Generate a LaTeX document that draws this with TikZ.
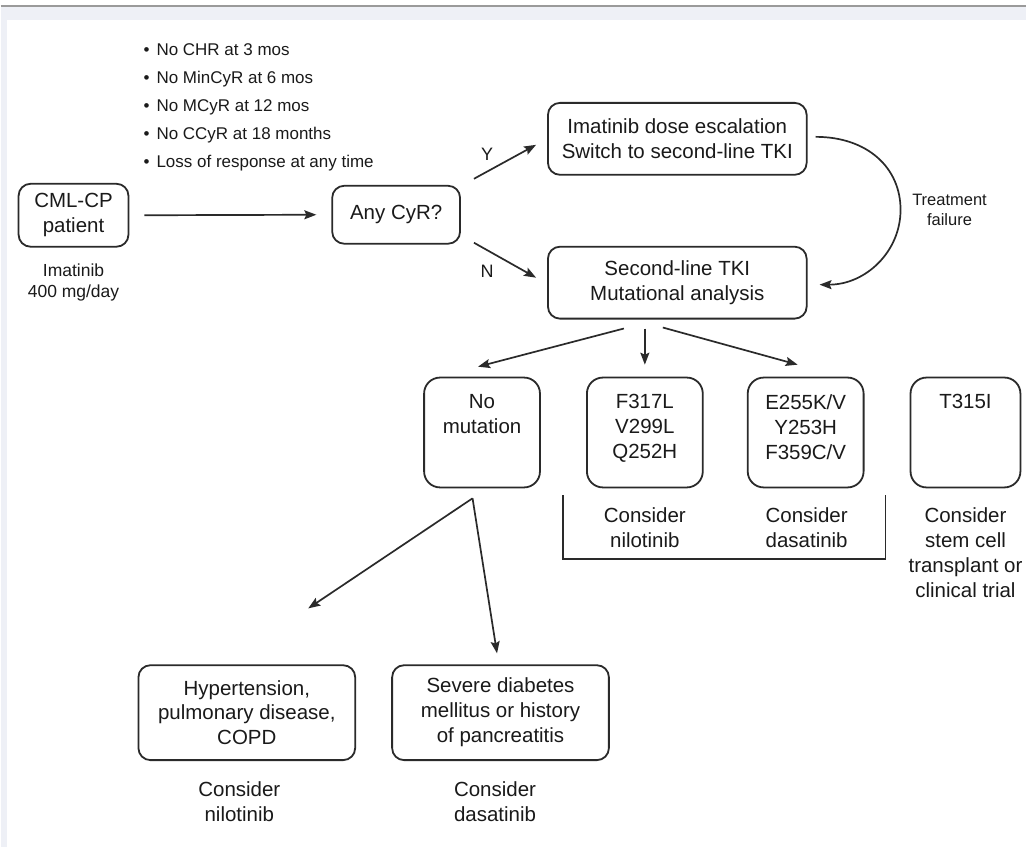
\documentclass[tikz,border=0pt]{standalone}
\usepackage{fontspec}
\setmainfont{Liberation Sans}
\usetikzlibrary{arrows.meta,calc}
\definecolor{ln}{HTML}{2A2A2A}
\definecolor{tx}{HTML}{1A1A1A}
\definecolor{band}{HTML}{EEF0F6}
\definecolor{bandline}{HTML}{9A9A9A}
\newcommand{\mainf}{\fontsize{20.5}{25}\selectfont}
\newcommand{\smallf}{\fontsize{17.5}{20.5}\selectfont}
\newcommand{\bulf}{\fontsize{17}{20}\selectfont}
\newcommand{\trf}{\fontsize{16.5}{20}\selectfont}
\newcommand{\ynf}{\fontsize{18}{20}\selectfont}
\newcommand{\sqtext}[1]{\parbox[t][76pt][t]{110pt}{\centering #1}}
\begin{document}
\begin{tikzpicture}[x=1pt,y=-1pt,
 box/.style={draw=ln,line width=1.8pt,rounded corners=12pt,align=center,text=tx,font=\mainf,inner sep=0pt},
 sq/.style={draw=ln,line width=1.8pt,rounded corners=16pt,minimum width=116pt,minimum height=110pt,inner sep=0pt,text=tx,font=\mainf},
 lbl/.style={align=center,text=tx,inner sep=0pt},
 arr/.style={draw=ln,line width=1.7pt,-{Stealth[length=12pt,width=9pt,inset=2pt]}},
 con/.style={draw=ln,line width=1.7pt}]
% background and frame
\fill[white] (0,0) rectangle (1027,848);
\fill[band] (0,6) rectangle (1027,20);
\fill[band] (0,20) rectangle (6,848);
\draw[bandline,line width=1.2pt] (0,6) -- (1027,6);
\useasboundingbox (0,0) rectangle (1027,848);

% bullet list
\node[lbl,font=\bulf,anchor=base west] (b1) at (143,56) {\textbullet\hspace{7pt}No CHR at 3 mos};
\node[lbl,font=\bulf,anchor=base west] (b2) at (143,84) {\textbullet\hspace{7pt}No MinCyR at 6 mos};
\node[lbl,font=\bulf,anchor=base west] (b3) at (143,112) {\textbullet\hspace{7pt}No MCyR at 12 mos};
\node[lbl,font=\bulf,anchor=base west] (b4) at (143,140) {\textbullet\hspace{7pt}No CCyR at 18 months};
\node[lbl,font=\bulf,anchor=base west] (b5) at (143,168) {\textbullet\hspace{7pt}Loss of response at any time};

% main boxes
\node[box,minimum width=110pt,minimum height=63pt] (cml) at (73,215.5) {CML-CP\\patient};
\node[lbl,font=\smallf] (imat) at (73,283) {Imatinib\\400 mg/day};
\node[box,minimum width=128pt,minimum height=58pt] (cyr) at (396,215) {Any CyR?};
\node[box,minimum width=259pt,minimum height=72pt] (esc) at (677.5,139) {Imatinib dose escalation\\Switch to second-line TKI};
\node[box,minimum width=259pt,minimum height=72pt] (tki) at (677.5,283) {Second-line TKI\\Mutational analysis};
\node[lbl,font=\trf] (tf) at (950,210) {Treatment\\failure};
\node[lbl,font=\ynf] (ylab) at (487,154) {Y};
\node[lbl,font=\ynf] (nlab) at (487,272) {N};

% mutation boxes
\node[sq] (nomut) at (482,433) {\sqtext{No\\mutation}};
\node[sq] (f317) at (645,433) {\sqtext{F317L\\V299L\\Q252H}};
\node[sq] (e255) at (806,433) {\sqtext{E255K/V\\Y253H\\F359C/V}};
\node[sq,minimum width=108pt] (t315) at (966,433) {\sqtext{T315I}};

\node[lbl,font=\mainf] (cn1) at (645,528) {Consider\\nilotinib};
\node[lbl,font=\mainf] (cd1) at (807,528) {Consider\\dasatinib};
\node[lbl,font=\mainf] (cst) at (966,553) {Consider\\stem cell\\transplant or\\clinical trial};
\draw[con] ([shift={(-82,7)}]f317.south) -- ([shift={(-82,71)}]f317.south) -- ([shift={(80,71)}]e255.south) -- ([shift={(80,7)}]e255.south);

% comorbidity boxes
\node[box,minimum width=217pt,minimum height=95pt] (hyp) at (246.5,713.5) {Hypertension,\\pulmonary disease,\\COPD};
\node[box,minimum width=217pt,minimum height=95pt] (sev) at (500.5,713.5) {Severe diabetes\\mellitus or history\\of pancreatitis};
\node[lbl,font=\mainf] (cn2) at (239,803) {Consider\\nilotinib};
\node[lbl,font=\mainf] (cd2) at (495,803) {Consider\\dasatinib};

% connectors
\draw[arr] ([xshift=15pt]cml.east) -- ([xshift=-15pt]cyr.west);
\draw[arr] ([shift={(13,-36)}]cyr.east) -- ([shift={(-11,6)}]esc.west);
\draw[arr] ([shift={(13,28)}]cyr.east) -- ([shift={(-11,-5)}]tki.west);
\coordinate (cv) at (901,210);
\draw[arr] ([shift={(8,-2)}]esc.east) .. controls (868,137) and (901,168) .. (cv) .. controls (901,252) and (866,285) .. ([shift={(12,2)}]tki.east);
\draw[arr] ([shift={(-53.5,9)}]tki.south) -- ([shift={(-4,-10)}]nomut.north);
\draw[arr] ([shift={(-32.5,9)}]tki.south) -- ([shift={(0,-12)}]f317.north);
\draw[arr] ([shift={(-14.5,8)}]tki.south) -- ([shift={(-8,-12)}]e255.north);
\coordinate (apex) at ([shift={(-9.5,10)}]nomut.south);
\draw[arr] (apex) -- ([shift={(61.5,-56)}]hyp.north);
\draw[arr] (apex) -- ([shift={(-3.5,-11)}]sev.north);
\end{tikzpicture}
\end{document}
